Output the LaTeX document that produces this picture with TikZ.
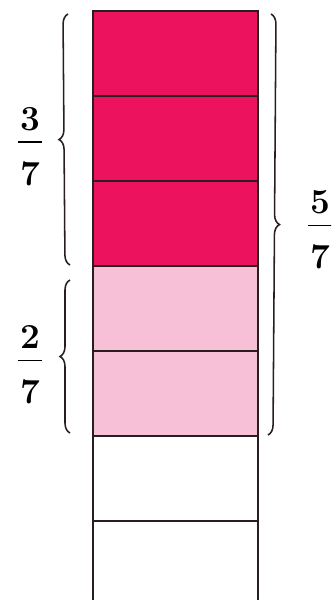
\documentclass[tikz,border=0pt]{standalone}
\usetikzlibrary{decorations.pathreplacing}

\definecolor{deeppink}{RGB}{236,18,94}
\definecolor{palepink}{RGB}{247,192,215}
\definecolor{edgegray}{RGB}{40,30,32}

\newcommand{\bfrac}[2]{\vbox{\offinterlineskip\halign{\hfil##\hfil\cr#1\cr\noalign{\kern7.5pt}\rule{0.62cm}{1pt}\cr\noalign{\kern13.5pt}#2\cr}}}

\begin{document}
\begin{tikzpicture}[
    x=0.025cm, y=-0.025cm,
    cell/.style={rectangle, draw=edgegray, line width=1.1pt, minimum width=4.125cm, minimum height=2.125cm, inner sep=0pt},
    darkcell/.style={cell, fill=deeppink},
    lightcell/.style={cell, fill=palepink},
    emptycell/.style={cell, fill=white},
    brace/.style={decorate, decoration={brace, amplitude=0.25cm}, draw=edgegray, line width=1.1pt},
    frac/.style={font=\fontsize{25}{27}\selectfont\bfseries, inner sep=0pt}
]
\useasboundingbox (0,0) rectangle (331,600);
\clip (0,0) rectangle (331,600);

% The seven parts of the strip
\foreach \i/\kind in {1/darkcell,2/darkcell,3/darkcell,4/lightcell,5/lightcell,6/emptycell,7/emptycell}{
    \node[\kind] (cell\i) at (175.5, {53.5+85*(\i-1)}) {};
}

% Brace end points
\coordinate (threetop) at (68, 14);
\coordinate (threebot) at (70, 265);
\coordinate (twotop)   at (70, 280);
\coordinate (twobot)   at (70, 433);
\coordinate (fivetop)  at (271, 14);
\coordinate (fivebot)  at (268, 435);

% Braces
\draw[brace] (threebot) -- (threetop);
\draw[brace] (twobot) -- (twotop);
\draw[brace] (fivetop) -- (fivebot);

% Fractions
\node[frac] (threesev) at (30, 146.5) {\bfrac{3}{7}};
\node[frac] (twosev)   at (30, 365)   {\bfrac{2}{7}};
\node[frac] (fivesev)  at (320, 230)  {\bfrac{5}{7}};

\end{tikzpicture}
\end{document}
